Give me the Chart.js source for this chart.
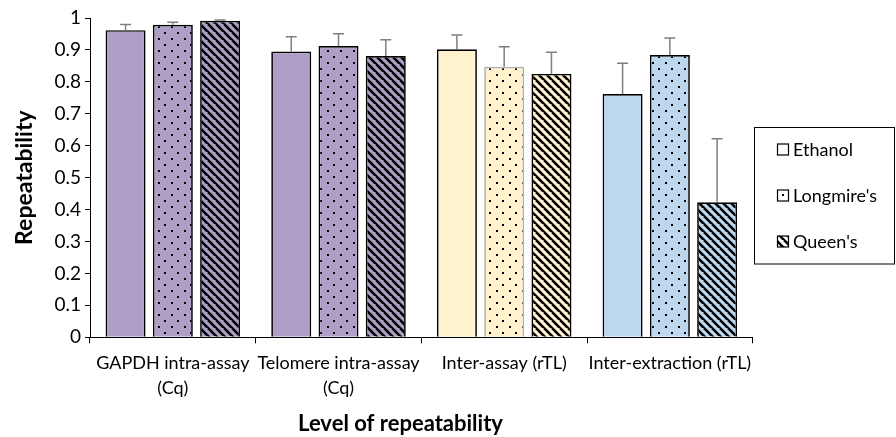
<!DOCTYPE html>
<html><head><meta charset="utf-8">
<script src="https://cdn.jsdelivr.net/npm/chart.js@4.4.0/dist/chart.umd.min.js"></script>
<style>html,body{margin:0;padding:0;background:#fff;} #wrap{width:896px;height:437px;}</style>
</head><body><div id="wrap"><canvas id="c" width="896" height="437"></canvas></div>
<script>
const categories = [['GAPDH intra-assay', '(Cq)'], ['Telomere intra-assay', '(Cq)'], 'Inter-assay (rTL)', 'Inter-extraction (rTL)'];
const seriesNames = ['Ethanol', "Longmire's", "Queen's"];
const ethanol = [0.962, 0.895, 0.902, 0.762];
const longmires = [0.979, 0.912, 0.847, 0.884];
const queens = [0.991, 0.881, 0.825, 0.423];
const ethanolErr = [0.018, 0.046, 0.045, 0.096];
const longmiresErr = [0.008, 0.039, 0.063, 0.053];
const queensErr = [0.003, 0.051, 0.068, 0.199];
const yTickLabels = ['0', '0.1', '0.2', '0.3', '0.4', '0.5', '0.6', '0.7', '0.8', '0.9', '1'];
const xTitle = 'Level of repeatability';
const yTitle = 'Repeatability';

const categoryColors = ['#ae9fc6', '#ae9fc6', '#fff2cc', '#bdd7ee'];
const FONT = 'Lato';

function dotPattern(bg) {
  const c = document.createElement('canvas'); c.width = 13; c.height = 12;
  const g = c.getContext('2d');
  g.fillStyle = bg; g.fillRect(0, 0, 13, 12);
  g.fillStyle = '#000';
  g.fillRect(2, 2, 2, 2); g.fillRect(8, 8, 2, 2);
  return g.createPattern(c, 'repeat');
}
function stripePattern(bg) {
  const c = document.createElement('canvas'); c.width = 8; c.height = 8;
  const g = c.getContext('2d');
  g.fillStyle = bg; g.fillRect(0, 0, 8, 8);
  g.strokeStyle = '#000'; g.lineWidth = 2.6;
  g.beginPath();
  for (const k of [-8, 0, 8]) { g.moveTo(k, 0); g.lineTo(k + 8, 8); }
  g.moveTo(-9, -1); g.lineTo(9, 17);
  g.stroke();
  return g.createPattern(c, 'repeat');
}

const errorBars = {
  id: 'errorBars',
  afterDatasetsDraw(chart) {
    const ctx = chart.ctx, ys = chart.scales.y;
    chart.data.datasets.forEach((ds, di) => {
      const meta = chart.getDatasetMeta(di);
      meta.data.forEach((bar, i) => {
        const top = ys.getPixelForValue(ds.data[i] + ds.errors[i]);
        ctx.save();
        ctx.strokeStyle = '#7f7f7f'; ctx.lineWidth = 1.5;
        ctx.beginPath();
        ctx.moveTo(bar.x, bar.y); ctx.lineTo(bar.x, top);
        ctx.moveTo(bar.x - 5.5, top); ctx.lineTo(bar.x + 5.5, top);
        ctx.stroke();
        ctx.restore();
      });
    });
  }
};

const customTitlesLegend = {
  id: 'customTitlesLegend',
  afterDraw(chart) {
    const ctx = chart.ctx;
    ctx.save();
    ctx.fillStyle = '#000';
    ctx.font = 'bold 22px ' + FONT;
    ctx.textAlign = 'center'; ctx.textBaseline = 'middle';
    ctx.fillText(xTitle, 400.5, 424);
    ctx.strokeStyle = '#000'; ctx.lineWidth = 1;
    ctx.fillStyle = '#fff';
    ctx.fillRect(754.5, 127.5, 140, 136.5);
    ctx.strokeRect(754.5, 127.5, 140, 136.5);
    chart.data.datasets.forEach((ds, i) => {
      const cy = 150 + i * 46;
      ctx.fillStyle = ds.legendFill;
      ctx.fillRect(777.5, cy - 6, 11, 11);
      ctx.strokeStyle = '#000'; ctx.lineWidth = 1.2;
      ctx.strokeRect(777.5, cy - 6, 11, 11);
      ctx.fillStyle = '#000';
      ctx.font = '18px ' + FONT;
      ctx.textAlign = 'left'; ctx.textBaseline = 'middle';
      ctx.fillText(ds.label, 793, cy);
    });
    ctx.restore();
  }
};

function build() {
  const ctx = document.getElementById('c').getContext('2d');
  new Chart(ctx, {
    type: 'bar',
    data: {
      labels: categories,
      datasets: [
        { label: seriesNames[0], data: ethanol, errors: ethanolErr,
          backgroundColor: categoryColors.slice(), borderColor: '#000', borderWidth: 1.7,
          legendFill: '#fff' },
        { label: seriesNames[1], data: longmires, errors: longmiresErr,
          backgroundColor: categoryColors.map(dotPattern), borderColor: ['#000', '#000', '#b0b0b0', '#000'], borderWidth: 1.7,
          legendFill: dotPattern('#fff') },
        { label: seriesNames[2], data: queens, errors: queensErr,
          backgroundColor: categoryColors.map(stripePattern), borderColor: '#000', borderWidth: 1.7,
          legendFill: stripePattern('#fff') }
      ]
    },
    options: {
      responsive: false,
      animation: false,
      devicePixelRatio: 1,
      layout: { padding: { left: 0, top: 18, right: 143.3, bottom: 0 } },
      datasets: { bar: { categoryPercentage: 0.856, barPercentage: 0.846 } },
      plugins: { legend: { display: false }, tooltip: { enabled: false } },
      scales: {
        x: {
          grid: { display: true, offset: true, drawOnChartArea: false, drawTicks: true, tickLength: 6, color: '#000', lineWidth: 1 },
          border: { display: true, color: '#000', width: 1 },
          ticks: { color: '#000', padding: 8, maxRotation: 0, autoSkip: false, font: { family: FONT, size: 18, lineHeight: 1.35 } },
          afterFit(scale) { scale.height = 99.7; }
        },
        y: {
          min: 0, max: 1,
          grid: { drawOnChartArea: false, drawTicks: true, tickLength: 5, color: '#000', lineWidth: 1 },
          border: { display: true, color: '#000', width: 1 },
          ticks: { stepSize: 0.1, color: '#000', padding: 4, font: { family: FONT, size: 19 },
            callback: (v, i) => yTickLabels[i] },
          title: { display: true, text: yTitle, color: '#000', font: { family: FONT, size: 23, weight: 'bold' }, padding: { top: 11, bottom: 0 } },
          afterFit(scale) { scale.width = 90; }
        }
      }
    },
    plugins: [errorBars, customTitlesLegend]
  });
}
if (document.fonts && document.fonts.load) {
  Promise.all([document.fonts.load('18px Lato'), document.fonts.load('bold 23px Lato')]).then(build, build);
} else { build(); }
</script></body></html>
